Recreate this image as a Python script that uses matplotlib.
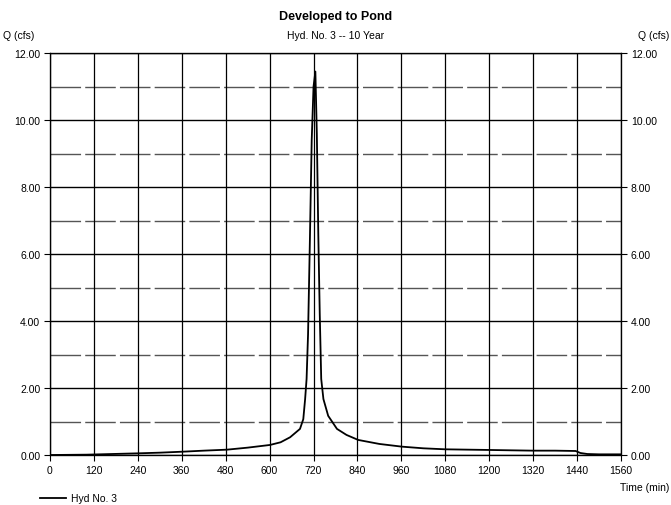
import numpy as np
import matplotlib
matplotlib.use("Agg")
import matplotlib.pyplot as plt

plt.rcParams["font.family"] = ["Liberation Sans", "DejaVu Sans"]

# hydrograph (time in min, Q in cfs)
time_min = [0, 100, 170, 240, 300, 364, 420, 484, 540, 601, 630, 656, 683, 692, 697,
            701, 705, 710, 715, 720, 725, 729, 733, 737, 741, 747, 760, 784, 810,
            842, 900, 961, 1020, 1080, 1140, 1203, 1260, 1320, 1380, 1436, 1449,
            1468, 1500, 1560]
q_cfs = [0.0, 0.01, 0.03, 0.05, 0.07, 0.10, 0.13, 0.16, 0.22, 0.30, 0.38, 0.53, 0.78,
         1.07, 1.67, 2.27, 3.6, 6.4, 9.4, 11.0, 11.45, 9.6, 6.6, 4.2, 2.27, 1.67,
         1.17, 0.78, 0.60, 0.45, 0.33, 0.25, 0.20, 0.17, 0.16, 0.15, 0.14, 0.13,
         0.13, 0.12, 0.06, 0.03, 0.02, 0.02]

x_ticks = list(range(0, 1561, 120))
y_major = [0, 2, 4, 6, 8, 10, 12]
y_minor = [1, 3, 5, 7, 9, 11]

fig = plt.figure(figsize=(6.71, 5.06), dpi=100)
ax = fig.add_axes([0.0745, 0.0988, 0.851, 0.7942])

for yv in y_minor:
    ax.axhline(yv, color="#555555", lw=1.0, ls=(0, (22, 3)), zorder=1)
for yv in y_major:
    ax.axhline(yv, color="black", lw=1.0, zorder=1)
for xv in x_ticks:
    ax.axvline(xv, color="black", lw=0.9, zorder=1)

line, = ax.plot(time_min, q_cfs, color="black", lw=1.3, zorder=3)

ax.set_xlim(0, 1560)
ax.set_ylim(0, 12)
ax.set_xticks(x_ticks)
ax.set_yticks(y_major)
ax.set_yticklabels([f"{v:.2f}" for v in y_major])
ax.tick_params(axis="both", direction="out", length=4, width=0.8, labelsize=7.5, pad=3)
for s in ax.spines.values():
    s.set_linewidth(0.9)

ax2 = ax.twinx()
ax2.set_ylim(0, 12)
ax2.set_yticks(y_major)
ax2.set_yticklabels([f"{v:.2f}" for v in y_major])
ax2.tick_params(axis="y", direction="out", length=4, width=0.8, labelsize=7.5, pad=3)

fig.text(0.5, 0.978, "Developed to Pond", ha="center", va="top",
         fontsize=9, fontweight="bold")
fig.text(0.5, 0.938, "Hyd. No. 3 -- 10 Year", ha="center", va="top", fontsize=7.5)
fig.text(0.005, 0.938, "Q (cfs)", ha="left", va="top", fontsize=7.5)
fig.text(0.997, 0.938, "Q (cfs)", ha="right", va="top", fontsize=7.5)
fig.text(0.997, 0.036, "Time (min)", ha="right", va="center", fontsize=7.5)

fig.legend([line], ["Hyd No. 3"], loc="lower left", bbox_to_anchor=(0.045, -0.015),
           frameon=False, fontsize=7.5, handlelength=2.5, handletextpad=0.5)

fig.savefig("out.png", dpi=100)
